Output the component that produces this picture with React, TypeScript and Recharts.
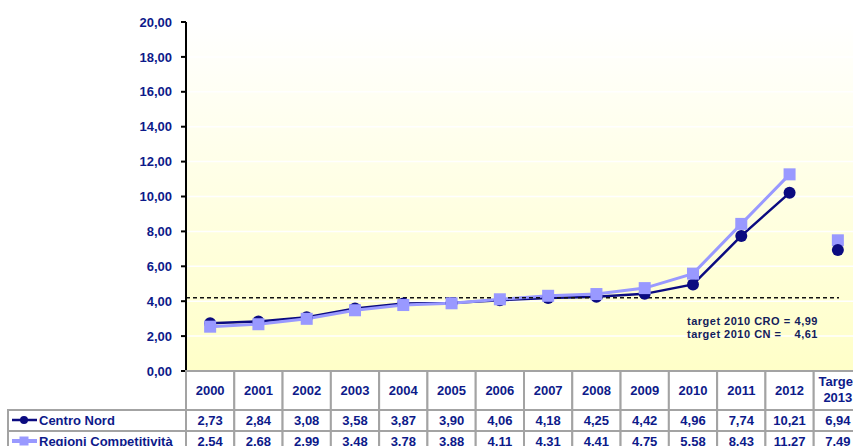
import {
  ComposedChart,
  Line,
  XAxis,
  YAxis,
  CartesianGrid,
  ReferenceLine,
} from "recharts";

const years = [
  "2000", "2001", "2002", "2003", "2004", "2005", "2006",
  "2007", "2008", "2009", "2010", "2011", "2012", "Target 2013",
];
const centroNord = [2.73, 2.84, 3.08, 3.58, 3.87, 3.9, 4.06, 4.18, 4.25, 4.42, 4.96, 7.74, 10.21, 6.94];
const regioniComp = [2.54, 2.68, 2.99, 3.48, 3.78, 3.88, 4.11, 4.31, 4.41, 4.75, 5.58, 8.43, 11.27, 7.49];
const yTicks = [0, 2, 4, 6, 8, 10, 12, 14, 16, 18, 20];
const targetLevel = 4.2;
const targetNotes = [
  { label: "target 2010 CRO =", value: "4,99" },
  { label: "target 2010 CN =", value: "4,61" },
];

const NAVY = "#0b0b80";
const LAVENDER = "#9999ff";
const TEXT = "#0d1a8a";
const BORDER = "#a3a3a3";

const CHART_W = 862;
const CHART_H = 470;
const PLOT_LEFT = 186;
const PLOT_TOP = 22;
const PLOT_BOTTOM = 371;
const BAND = (CHART_W - PLOT_LEFT) / years.length;

const last = years.length - 1;
const data = years.map((year, i) => ({
  year,
  cn: i < last ? centroNord[i] : null,
  rc: i < last ? regioniComp[i] : null,
  cnT: i === last ? centroNord[i] : null,
  rcT: i === last ? regioniComp[i] : null,
}));

const fmt = (v: number) => v.toFixed(2).replace(".", ",");

const CircleDot = (p: any) => {
  if (p.cx == null || p.cy == null || p.value == null)
    return <g key={`c${p.index}`} />;
  return <circle key={`c${p.index}`} cx={p.cx} cy={p.cy} r={6} fill={NAVY} />;
};

const SquareDot = (p: any) => {
  if (p.cx == null || p.cy == null || p.value == null)
    return <g key={`s${p.index}`} />;
  return (
    <rect key={`s${p.index}`} x={p.cx - 6} y={p.cy - 6} width={12} height={12} fill={LAVENDER} />
  );
};

const cellText = {
  fill: TEXT,
  fontSize: 13,
  fontWeight: 700,
  textAnchor: "middle" as const,
};

const TableTick = (props: any) => {
  const { x, payload } = props;
  const i = years.indexOf(payload.value);
  const left = x - BAND / 2;
  const isTarget = payload.value === "Target 2013";
  const hTop = PLOT_BOTTOM;
  const r1 = 410;
  const r2 = 431;
  return (
    <g>
      {i === 0 && (
        <g>
          <rect x={8} y={r1} width={PLOT_LEFT - 8} height={21} fill="#fff" stroke={BORDER} strokeWidth={2} />
          <rect x={8} y={r2} width={PLOT_LEFT - 8} height={21} fill="#fff" stroke={BORDER} strokeWidth={2} />
          <line x1={12} x2={37} y1={420} y2={420} stroke={NAVY} strokeWidth={2.5} />
          <circle cx={24} cy={420} r={4} fill={NAVY} />
          <text x={39} y={425} fill={TEXT} fontSize={13} fontWeight={700}>Centro Nord</text>
          <line x1={12} x2={37} y1={441} y2={441} stroke={LAVENDER} strokeWidth={4} />
          <rect x={19.5} y={436.5} width={9} height={9} fill={LAVENDER} />
          <text x={39} y={446} fill={TEXT} fontSize={13} fontWeight={700}>Regioni Competitività</text>
        </g>
      )}
      <rect x={left} y={hTop} width={BAND} height={r1 - hTop} fill="#fff" stroke={BORDER} strokeWidth={2} />
      <rect x={left} y={r1} width={BAND} height={21} fill="#fff" stroke={BORDER} strokeWidth={2} />
      <rect x={left} y={r2} width={BAND} height={21} fill="#fff" stroke={BORDER} strokeWidth={2} />
      {isTarget ? (
        <text {...cellText} x={x}>
          <tspan x={x} y={386}>Target</tspan>
          <tspan x={x} y={402}>2013</tspan>
        </text>
      ) : (
        <text {...cellText} x={x} y={395}>{payload.value}</text>
      )}
      <text {...cellText} x={x} y={425}>{fmt(centroNord[i])}</text>
      <text {...cellText} x={x} y={446}>{fmt(regioniComp[i])}</text>
    </g>
  );
};

const TargetNote = (props: any) => {
  const vb = props.viewBox || {};
  const x0 = (vb.x ?? PLOT_LEFT) + 501;
  const y0 = (vb.y ?? 297) + 27;
  const style = { fill: "#13205a", fontSize: 11, fontWeight: 700, letterSpacing: 0.5 };
  return (
    <g>
      {targetNotes.map((n, k) => (
        <g key={n.label}>
          <text {...style} x={x0} y={y0 + k * 13}>{n.label}</text>
          <text {...style} x={x0 + 131} y={y0 + k * 13} textAnchor="end">{n.value}</text>
        </g>
      ))}
    </g>
  );
};

const App = () => {
  return (
    <div
      style={{
        position: "absolute",
        left: 0,
        top: 0,
        width: 853,
        height: 446,
        overflow: "hidden",
        background: "#fff",
        fontFamily: "Arial, 'Liberation Sans', sans-serif",
      }}
    >
      <svg width={0} height={0} style={{ position: "absolute" }}>
        <defs>
          <linearGradient id="plotBg" x1="0" y1="0" x2="0" y2="1">
            <stop offset="0%" stopColor="#ffffff" />
            <stop offset="100%" stopColor="#ffffc8" />
          </linearGradient>
        </defs>
      </svg>
      <ComposedChart
        width={CHART_W}
        height={CHART_H}
        data={data}
        margin={{ top: PLOT_TOP, right: 0, left: PLOT_LEFT - 60, bottom: 0 }}
      >
        <CartesianGrid
          vertical={false}
          stroke="#ffffff"
          strokeWidth={1.5}
          fill="url(#plotBg)"
          fillOpacity={1}
        />
        <XAxis
          dataKey="year"
          scale="point"
          padding={{ left: BAND / 2, right: BAND / 2 }}
          interval={0}
          axisLine={false}
          tickLine={false}
          height={CHART_H - PLOT_BOTTOM}
          tick={<TableTick />}
        />
        <YAxis
          width={60}
          domain={[0, 20]}
          ticks={yTicks}
          tickFormatter={fmt}
          axisLine={{ stroke: "#000", strokeWidth: 2 }}
          tickLine={{ stroke: "#000", strokeWidth: 2 }}
          tickSize={5}
          tickMargin={9}
          tick={{ fill: TEXT, fontSize: 13, fontWeight: 700 }}
        />
        <Line
          dataKey="cn"
          stroke={NAVY}
          strokeWidth={2.5}
          dot={CircleDot}
          activeDot={false}
          isAnimationActive={false}
        />
        <Line
          dataKey="rc"
          stroke={LAVENDER}
          strokeWidth={3}
          dot={SquareDot}
          activeDot={false}
          isAnimationActive={false}
        />
        <Line
          dataKey="rcT"
          stroke="none"
          dot={SquareDot}
          activeDot={false}
          isAnimationActive={false}
        />
        <Line
          dataKey="cnT"
          stroke="none"
          dot={CircleDot}
          activeDot={false}
          isAnimationActive={false}
        />
        <ReferenceLine
          y={targetLevel}
          shape={(p: any) => (
            <line
              x1={p.x1}
              y1={p.y1}
              x2={p.x2 - 23}
              y2={p.y2}
              stroke="#111"
              strokeWidth={1.5}
              strokeDasharray="4 3"
            />
          )}
          label={(p: any) => <TargetNote {...p} />}
        />
      </ComposedChart>
    </div>
  );
};

export default App;
